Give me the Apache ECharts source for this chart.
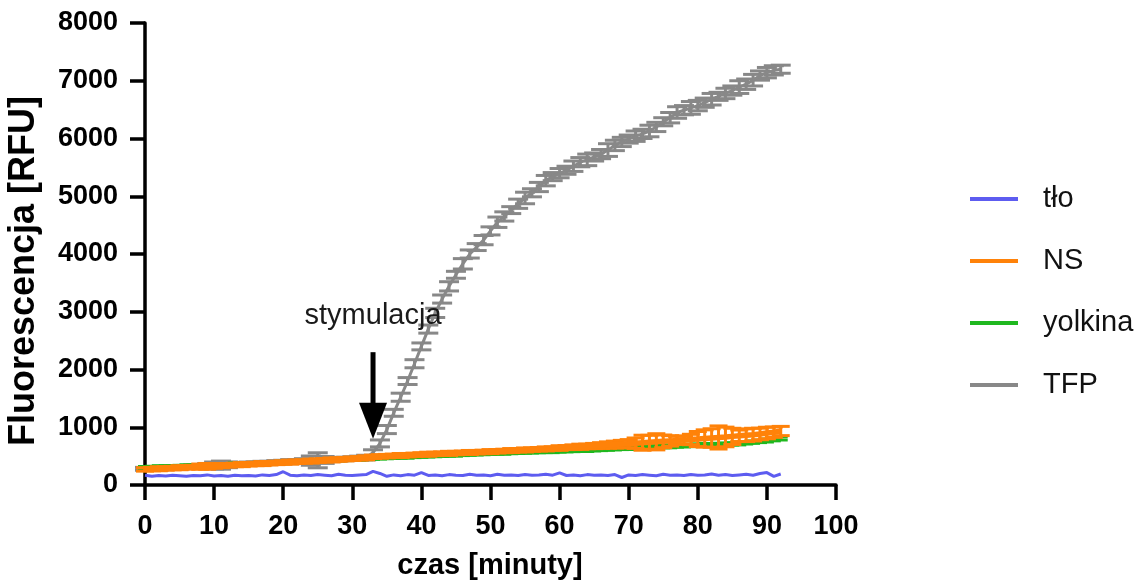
<!DOCTYPE html>
<html>
<head>
<meta charset="utf-8">
<script src="https://cdn.jsdelivr.net/npm/echarts@6/dist/echarts.min.js"></script>
<style>html,body{margin:0;padding:0;background:#fff;}#c{width:1143px;height:588px;}</style>
</head>
<body>
<div id="c"></div>
<script>
const minutes = [0,1,2,3,4,5,6,7,8,9,10,11,12,13,14,15,16,17,18,19,20,21,22,23,24,25,26,27,28,29,30,31,32,33,34,35,36,37,38,39,40,41,42,43,44,45,46,47,48,49,50,51,52,53,54,55,56,57,58,59,60,61,62,63,64,65,66,67,68,69,70,71,72,73,74,75,76,77,78,79,80,81,82,83,84,85,86,87,88,89,90,91,92];

const tlo = [170,150,165,155,170,160,150,165,160,175,
  155,165,150,170,160,165,155,175,165,180,
  230,170,160,175,165,180,170,160,185,170,
  165,175,180,235,200,150,175,160,180,170,
  215,165,175,160,180,170,165,185,170,175,
  160,185,170,175,165,180,170,175,185,170,
  210,165,175,160,180,170,175,165,180,130,
  175,165,180,170,160,185,170,175,165,180,
  170,175,190,170,180,165,175,185,170,200,
  215,150,190];

const ns = [270,276,282,287,293,300,305,311,318,323,
  330,335,341,347,353,359,365,371,377,383,
  390,396,402,408,414,421,428,434,441,447,
  455,462,470,488,495,500,505,510,516,522,
  528,533,538,543,548,553,558,563,568,573,
  578,584,590,596,602,607,613,619,625,632,
  640,648,655,662,668,675,683,692,700,708,
  716,724,732,740,748,756,764,772,780,788,
  796,805,814,823,832,842,852,862,872,884,
  900,915,935];
const nsErr = [30,30,35,30,30,35,30,30,45,50,
  40,35,30,30,35,30,30,35,30,30,
  30,35,30,30,35,30,30,35,30,30,
  30,30,35,30,30,30,30,35,30,30,
  30,35,30,30,35,30,30,35,30,30,
  35,30,30,35,30,35,30,30,35,30,
  40,35,40,45,40,45,50,55,60,65,
  70,90,130,120,140,110,90,70,70,90,
  130,150,160,200,170,140,100,110,110,100,
  100,90,80];

const yolkina = [300,304,308,312,316,320,324,328,332,336,
  340,345,350,355,360,365,370,375,380,385,
  390,396,402,408,414,420,426,432,438,444,
  450,455,460,465,470,475,480,485,490,495,
  500,505,510,515,520,525,530,535,540,545,
  550,554,558,562,566,570,574,578,582,586,
  590,594,598,602,606,610,616,622,628,634,
  640,645,650,655,660,665,670,675,680,685,
  690,694,698,702,706,712,720,730,742,755,
  770,785,800];
const yolkinaErr = [25,25,30,25,25,25,30,25,25,25,
  25,25,25,30,25,25,25,25,30,25,
  25,25,25,25,30,25,25,25,25,25,
  25,30,25,25,25,25,25,25,30,25,
  25,25,25,25,25,30,25,25,25,25,
  25,25,30,25,25,25,25,25,25,30,
  25,25,25,25,30,25,25,25,25,25,
  30,25,25,25,25,25,30,25,25,25,
  25,30,25,25,25,25,30,25,25,25,
  30,25,25];

const tfp = [280,285,290,296,302,308,314,320,326,332,
  338,344,350,356,362,368,374,380,386,392,
  398,404,410,416,422,428,434,440,446,452,
  458,465,475,560,720,960,1250,1520,1800,2100,
  2400,2700,2980,3220,3440,3640,3830,4000,4120,4240,
  4400,4550,4650,4760,4870,4970,5060,5160,5270,5340,
  5400,5450,5520,5590,5630,5680,5730,5800,5880,5940,
  5990,6040,6080,6130,6200,6290,6360,6450,6490,6530,
  6570,6620,6680,6730,6780,6830,6890,6940,7010,7090,
  7140,7180,7200];
const tfpErr = [25,25,30,25,25,30,25,30,25,40,
  60,70,50,30,25,30,25,30,25,30,
  30,35,30,40,80,130,60,35,30,30,
  30,35,40,50,60,70,60,70,60,70,
  60,70,80,70,80,60,90,70,60,80,
  70,90,80,60,80,100,70,80,90,70,
  80,70,90,80,100,70,80,110,90,80,
  70,90,80,100,80,70,90,100,80,110,
  90,80,100,70,90,80,110,90,100,80,
  90,80,70];

const xTicks = [0,10,20,30,40,50,60,70,80,90,100];
const yTicks = [0,1000,2000,3000,4000,5000,6000,7000,8000];
const seriesNames = ['tło','NS','yolkina','TFP'];
const stimulation = {time: 33, from: 2300, to: 800, labelValue: 2920, label: 'stymulacja'};

const colors = {tlo:'#5d5cf0', ns:'#ff8209', yolkina:'#1fb81f', tfp:'#888888'};
const FONT = '"Liberation Sans", Arial, Helvetica, sans-serif';

function pairs(vals){ return minutes.map((t,i)=>[t, vals[i]]); }
function triples(vals, errs){ return minutes.map((t,i)=>[t, vals[i], errs[i]]); }

function errRender(capW, color, lw){
  return function(params, api){
    const x = api.value(0), y = api.value(1), e = api.value(2);
    const top = api.coord([x, y + e]);
    const bot = api.coord([x, y - e]);
    const st = {stroke: color, lineWidth: lw};
    return {type:'group', children:[
      {type:'line', shape:{x1:top[0], y1:top[1], x2:bot[0], y2:bot[1]}, style:st},
      {type:'line', shape:{x1:top[0]-capW/2, y1:top[1], x2:top[0]+capW/2, y2:top[1]}, style:st},
      {type:'line', shape:{x1:bot[0]-capW/2, y1:bot[1], x2:bot[0]+capW/2, y2:bot[1]}, style:st}
    ]};
  };
}

const chart = echarts.init(document.getElementById('c'), null, {renderer:'canvas'});
chart.setOption({
  animation: false,
  backgroundColor: '#ffffff',
  grid: {left:145, right:307, top:23, bottom:103, containLabel:false},
  xAxis: {
    type:'value', min: xTicks[0], max: xTicks[xTicks.length-1], interval: 10,
    splitLine:{show:false},
    axisLine:{show:true, onZero:false, lineStyle:{color:'#000', width:3.5}},
    axisTick:{show:true, inside:false, length:15, lineStyle:{color:'#000', width:3.5}},
    axisLabel:{color:'#000', fontFamily:FONT, fontWeight:'bold', fontSize:27, margin:28,
      formatter: v => String(v)}
  },
  yAxis: {
    type:'value', min: yTicks[0], max: yTicks[yTicks.length-1], interval: 1000,
    splitLine:{show:false},
    axisLine:{show:true, onZero:false, lineStyle:{color:'#000', width:3.5}},
    axisTick:{show:true, inside:false, length:15, lineStyle:{color:'#000', width:3.5}},
    axisLabel:{color:'#000', fontFamily:FONT, fontWeight:'bold', fontSize:27, margin:27,
      formatter: v => String(v)}
  },
  legend: {
    orient:'vertical', left:965, top:179, data: seriesNames,
    icon:'rect', itemWidth:48, itemHeight:4, itemGap:32,
    textStyle:{fontFamily:FONT, fontSize:29, color:'#111', lineHeight:30, padding:[0,0,0,20]},
    selectedMode:false
  },
  graphic: [
    {type:'text', x:24, y:271, rotation:Math.PI/2,
      style:{text:'Fluorescencja [RFU]', font:'bold 36px ' + FONT, fill:'#000', align:'center', verticalAlign:'middle'}},
    {type:'text', x:490, y:566,
      style:{text:'czas [minuty]', font:'bold 29px ' + FONT, fill:'#000', align:'center', verticalAlign:'middle'}}
  ],
  series: [
    {name:'TFP_err', type:'custom', renderItem: errRender(20, colors.tfp, 3),
      data: triples(tfp, tfpErr), encode:{x:0, y:1}, z:2, silent:true},
    {name:'TFP', type:'line', data: pairs(tfp), showSymbol:false, symbol:'none',
      color: colors.tfp, lineStyle:{color:colors.tfp, width:3}, z:2},
    {name:'yolkina_err', type:'custom', renderItem: errRender(14, colors.yolkina, 2.5),
      data: triples(yolkina, yolkinaErr), encode:{x:0, y:1}, z:3, silent:true},
    {name:'yolkina', type:'line', data: pairs(yolkina), showSymbol:false, symbol:'none',
      color: colors.yolkina, lineStyle:{color:colors.yolkina, width:4.5}, z:3},
    {name:'NS_err', type:'custom', renderItem: errRender(18, colors.ns, 3),
      data: triples(ns, nsErr), encode:{x:0, y:1}, z:4, silent:true},
    {name:'NS', type:'line', data: pairs(ns), showSymbol:false, symbol:'none',
      color: colors.ns, lineStyle:{color:colors.ns, width:5.5}, z:4},
    {name:'tło', type:'line', data: pairs(tlo), showSymbol:false, symbol:'none',
      color: colors.tlo, lineStyle:{color:colors.tlo, width:3}, z:5},
    {name:'annotation', type:'custom', z:6, silent:true, encode:{x:0, y:1},
      data: [[stimulation.time, stimulation.from, stimulation.to, stimulation.labelValue]],
      renderItem: function(params, api){
        const t = api.value(0);
        const a = api.coord([t, api.value(1)]);
        const tip = api.coord([t, api.value(2)]);
        const lab = api.coord([t, api.value(3)]);
        const headH = 36, headW = 28;
        return {type:'group', children:[
          {type:'line', shape:{x1:a[0], y1:a[1], x2:tip[0], y2:tip[1]-headH+2}, style:{stroke:'#000', lineWidth:5}},
          {type:'polygon', shape:{points:[[tip[0]-headW/2, tip[1]-headH],[tip[0]+headW/2, tip[1]-headH],[tip[0], tip[1]]]}, style:{fill:'#000'}},
          {type:'text', x: lab[0], y: lab[1], style:{text: stimulation.label, font:'29px ' + FONT, fill:'#1a1a1a', align:'center', verticalAlign:'middle'}}
        ]};
      }
    }
  ]
});
</script>
</body>
</html>
